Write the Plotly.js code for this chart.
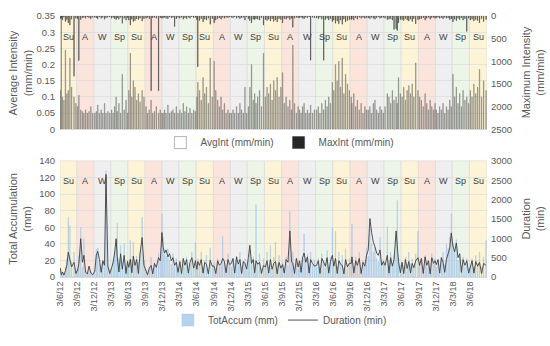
<!DOCTYPE html>
<html>
<head>
<meta charset="utf-8">
<script src="https://cdn.plot.ly/plotly-3.0.1.min.js"></script>
<style>html,body{margin:0;padding:0;background:#fff;}#chart{width:550px;height:346px;}</style>
</head>
<body>
<div id="chart"></div>
<script>
// ---- Event data (one entry per rainfall event) ----
const eventDates = [
 '2012-06-05','2012-06-10','2012-06-16','2012-06-24','2012-07-02','2012-07-10','2012-07-17','2012-07-26','2012-08-04','2012-08-17','2012-08-27',
 '2012-09-05','2012-09-12','2012-09-22','2012-10-01','2012-10-09','2012-10-18','2012-10-27','2012-11-05','2012-11-15','2012-11-25',
 '2012-12-06','2012-12-14','2012-12-22','2012-12-31','2013-01-09','2013-01-18','2013-01-27','2013-02-04','2013-02-14','2013-02-24',
 '2013-03-06','2013-03-14','2013-03-22','2013-03-30','2013-04-05','2013-04-14','2013-04-23','2013-05-02','2013-05-12','2013-05-22','2013-05-30',
 '2013-06-06','2013-06-14','2013-06-22','2013-06-30','2013-07-09','2013-07-18','2013-07-27','2013-08-05','2013-08-16','2013-08-26',
 '2013-09-06','2013-09-14','2013-09-23','2013-10-03','2013-10-12','2013-10-21','2013-10-31','2013-11-12','2013-11-21','2013-11-30',
 '2013-12-06','2013-12-14','2013-12-22','2014-01-01','2014-01-10','2014-01-19','2014-01-28','2014-02-06','2014-02-15','2014-02-24',
 '2014-03-06','2014-03-15','2014-03-24','2014-04-02','2014-04-11','2014-04-20','2014-04-29','2014-05-09','2014-05-19','2014-05-28',
 '2014-06-05','2014-06-10','2014-06-19','2014-06-28','2014-07-08','2014-07-17','2014-07-26','2014-08-05','2014-08-15','2014-08-26',
 '2014-09-05','2014-09-14','2014-09-24','2014-10-03','2014-10-12','2014-10-21','2014-10-30','2014-11-08','2014-11-18','2014-11-27',
 '2014-12-06','2014-12-15','2014-12-24','2015-01-03','2015-01-12','2015-01-21','2015-01-30','2015-02-08','2015-02-17','2015-02-26',
 '2015-03-07','2015-03-15','2015-03-24','2015-04-02','2015-04-10','2015-04-17','2015-04-26','2015-05-06','2015-05-16','2015-05-27',
 '2015-06-06','2015-06-15','2015-06-24','2015-07-03','2015-07-12','2015-07-21','2015-07-30','2015-08-08','2015-08-18','2015-08-28',
 '2015-09-06','2015-09-15','2015-09-25','2015-10-05','2015-10-15','2015-10-24','2015-10-31','2015-11-09','2015-11-19','2015-11-28',
 '2015-12-06','2015-12-14','2015-12-22','2015-12-30','2016-01-08','2016-01-17','2016-01-26','2016-02-03','2016-02-13','2016-02-23',
 '2016-03-06','2016-03-15','2016-03-24','2016-04-03','2016-04-13','2016-04-22','2016-05-01','2016-05-10','2016-05-19','2016-05-29',
 '2016-06-06','2016-06-15','2016-06-24','2016-07-03','2016-07-12','2016-07-21','2016-07-30','2016-08-08','2016-08-18','2016-08-28',
 '2016-09-07','2016-09-11','2016-09-21','2016-10-01','2016-10-10','2016-10-20','2016-10-30','2016-11-09','2016-11-19','2016-11-28',
 '2016-12-07','2016-12-16','2016-12-25','2017-01-03','2017-01-12','2017-01-21','2017-01-30','2017-02-08','2017-02-17','2017-02-26',
 '2017-03-07','2017-03-19','2017-03-28','2017-04-06','2017-04-15','2017-04-24','2017-05-05','2017-05-11','2017-05-18','2017-05-28',
 '2017-06-06','2017-06-15','2017-06-24','2017-07-03','2017-07-12','2017-07-21','2017-07-30','2017-08-08','2017-08-18','2017-08-30',
 '2017-09-08','2017-09-17','2017-09-27','2017-10-07','2017-10-16','2017-10-25','2017-11-03','2017-11-12','2017-11-21','2017-11-29',
 '2017-12-06','2017-12-15','2017-12-24','2018-01-02','2018-01-11','2018-01-20','2018-01-29','2018-02-07','2018-02-16','2018-02-24',
 '2018-03-05','2018-03-14','2018-03-23','2018-04-01','2018-04-10','2018-04-19','2018-04-28','2018-05-08','2018-05-18','2018-05-28',
 '2018-06-06','2018-06-15','2018-06-25','2018-07-05','2018-07-15','2018-07-25','2018-08-05','2018-08-16','2018-08-29'
];
const avgInt = [
 .12,.36,.10,.09,.245,.11,.12,.22,.13,.10,.08,
 .07,.105,.06,.055,.05,.06,.05,.055,.07,.05,
 .05,.055,.075,.05,.06,.05,.08,.05,.055,.05,
 .06,.05,.07,.10,.055,.08,.05,.17,.06,.09,.05,
 .12,.235,.10,.15,.13,.09,.11,.085,.12,.10,
 .07,.05,.06,.09,.05,.055,.07,.05,.06,.05,
 .05,.06,.05,.075,.05,.055,.06,.05,.07,.05,
 .06,.05,.08,.055,.07,.05,.065,.05,.06,.055,
 .10,.145,.12,.09,.16,.11,.13,.08,.22,.10,
 .21,.12,.09,.07,.10,.06,.08,.05,.06,.05,
 .05,.06,.05,.07,.05,.08,.06,.05,.13,.05,
 .07,.13,.20,.09,.11,.08,.10,.12,.07,.235,
 .10,.13,.11,.14,.09,.15,.12,.16,.10,.13,
 .175,.08,.10,.07,.09,.06,.26,.08,.05,.07,
 .06,.05,.07,.08,.05,.06,.05,.075,.05,.06,
 .06,.07,.05,.08,.06,.09,.07,.10,.08,.145,
 .12,.20,.15,.21,.13,.22,.11,.17,.14,.12,
 .10,.08,.11,.07,.09,.06,.08,.05,.07,.06,
 .06,.07,.05,.08,.09,.06,.05,.07,.06,.05,
 .07,.11,.10,.08,.12,.09,.10,.08,.16,.11,
 .10,.13,.09,.12,.135,.11,.14,.10,.205,.12,
 .10,.09,.07,.11,.08,.06,.09,.07,.06,.08,
 .06,.05,.07,.06,.08,.05,.07,.06,.09,.07,
 .17,.10,.13,.08,.11,.07,.12,.09,.10,.08,
 .12,.10,.14,.11,.13,.185,.10,.15,.12
];
const maxInt = [
 60,40,90,30,120,80,150,200,70,1330,50,
 60,980,80,40,30,50,20,40,60,30,
 30,40,60,20,50,30,70,40,30,20,
 50,30,60,80,40,70,30,160,50,90,40,
 90,200,70,120,100,60,80,50,110,60,
 50,30,60,1650,40,30,50,1650,40,50,
 40,30,50,60,20,40,30,233,60,30,
 50,30,70,40,60,30,50,20,40,30,
 80,1120,100,60,130,70,90,50,180,60,
 150,90,60,40,70,30,50,30,40,20,
 30,40,20,50,30,60,40,30,90,20,
 60,100,150,70,80,60,70,90,40,200,
 80,100,70,110,60,120,90,130,60,80,
 150,60,70,40,80,50,250,50,30,40,
 40,30,50,60,30,40,20,975,30,40,
 40,60,30,70,975,80,50,90,60,120,
 90,160,110,170,90,180,70,130,100,80,
 80,60,90,40,70,30,50,30,50,40,
 40,60,30,50,70,40,20,50,40,30,
 50,80,70,60,90,300,280,320,150,80,
 80,100,60,90,110,70,120,60,170,80,
 70,60,40,90,50,30,70,40,30,50,
 40,30,50,40,60,30,50,40,80,60,
 130,70,100,50,80,40,90,60,340,50,
 90,70,110,80,100,150,60,120,80
];
const totAccum = [
 9,4,6,5,12,22,72,62,18,30,8,
 10,25,60,12,46,8,5,10,6,4,
 8,33,35,15,10,20,12,128,14,9,
 10,18,30,45,65,22,38,14,40,12,20,
 12,44,20,42,15,25,18,30,72,20,
 8,5,12,24,10,18,14,28,20,76,
 48,30,25,34,20,15,28,12,22,10,
 14,8,20,12,24,9,16,30,11,42,
 10,22,15,30,12,20,26,8,35,14,
 18,10,22,12,16,49,20,10,28,14,
 12,20,9,25,14,30,10,18,22,8,
 20,32,15,24,12,87,18,28,10,22,
 14,30,12,38,10,24,42,16,26,12,
 18,10,24,14,79,20,30,12,22,9,
 16,10,24,52,18,28,12,30,14,20,
 12,22,9,28,18,14,32,12,24,59,
 14,55,12,30,18,26,10,34,16,22,
 20,64,12,24,16,30,10,20,14,35,
 25,58,40,30,36,22,18,48,12,20,
 14,61,20,30,16,26,50,92,22,14,
 18,12,24,10,30,16,22,12,28,55,
 14,22,10,26,12,20,9,28,15,22,
 12,20,10,24,30,15,40,35,48,76,
 40,30,45,20,28,14,24,12,22,10,
 14,22,12,26,16,30,12,24,44
];
const duration = [
 230,60,130,50,160,310,640,480,260,380,90,
 180,350,990,380,560,120,80,280,100,60,
 150,560,660,450,120,420,300,2650,280,90,
 240,380,620,990,520,130,600,200,560,90,400,
 250,460,110,540,300,450,90,600,1020,300,
 150,60,220,300,80,350,250,500,420,1150,
 780,620,700,520,600,420,500,300,380,120,
 400,90,480,300,450,100,380,500,230,420,
 200,400,300,450,100,380,330,80,430,280,
 280,90,420,300,350,480,400,110,450,320,
 350,480,100,520,330,450,90,400,350,200,
 500,820,350,450,110,420,330,380,90,300,
 260,420,100,450,200,350,400,80,380,230,
 320,100,450,380,1190,400,350,90,480,260,
 420,120,500,620,380,520,100,450,350,280,
 300,420,90,480,380,280,500,100,400,560,
 280,480,90,420,330,300,80,450,260,350,
 350,520,100,420,300,480,90,380,280,560,
 700,1510,1150,900,780,620,560,700,300,400,
 300,560,100,500,280,450,1190,760,400,110,
 380,90,450,220,400,100,350,240,420,500,
 300,480,90,520,300,420,80,500,350,420,
 320,450,100,500,380,120,450,600,750,1140,
 800,650,880,500,600,120,450,300,420,100,
 300,420,100,400,280,380,90,350,300
];

// ---- Seasons ----
const seasonNames = ['Su','A','W','Sp','Su','A','W','Sp','Su','A','W','Sp','Su','A','W','Sp','Su','A','W','Sp','Su','A','W','Sp','Su'];
const seasonStarts = ['2012-06-03','2012-09-01','2012-12-01','2013-03-01','2013-06-01','2013-09-01','2013-12-01','2014-03-01',
 '2014-06-01','2014-09-01','2014-12-01','2015-03-01','2015-06-01','2015-09-01','2015-12-01','2016-03-01',
 '2016-06-01','2016-09-01','2016-12-01','2017-03-01','2017-06-01','2017-09-01','2017-12-01','2018-03-01','2018-06-01'];
const axisStart = '2012-06-03';
const axisEnd = '2018-09-03';
const seasonColors = {Su:'#fdf3d6', A:'#fbe4dc', W:'#efefef', Sp:'#edf4e8'};

// ---- X tick labels ----
const tickDates = ['2012-06-03','2012-09-03','2012-12-03','2013-03-03','2013-06-03','2013-09-03','2013-12-03','2014-03-03',
 '2014-06-03','2014-09-03','2014-12-03','2015-03-03','2015-06-03','2015-09-03','2015-12-03','2016-03-03',
 '2016-06-03','2016-09-03','2016-12-03','2017-03-03','2017-06-03','2017-09-03','2017-12-03','2018-03-03','2018-06-03'];
const tickLabels = ['3/6/12','3/9/12','3/12/12','3/3/13','3/6/13','3/9/13','3/12/13','3/3/14',
 '3/6/14','3/9/14','3/12/14','3/3/15','3/6/15','3/9/15','3/12/15','3/3/16',
 '3/6/16','3/9/16','3/12/16','3/3/17','3/6/17','3/9/17','3/12/17','3/3/18','3/6/18'];

// ---- Axis titles ----
const axisTitles = [
  {text:'Average Intensity<br>(mm/min)', side:'left', yref:'y domain'},
  {text:'Maximum Intensity<br>(mm/min)', side:'right', yref:'y domain'},
  {text:'Total Accumulation<br>(mm)', side:'left', yref:'y3 domain'},
  {text:'Duration<br>(min)', side:'right', yref:'y3 domain'}
];

const FONT = 'Liberation Sans, Arial, sans-serif';
const TXT = '#595959';
const DAY = 86400000;

const shapes = [];
const annotations = [];
seasonNames.forEach((s, i) => {
  const x0 = seasonStarts[i];
  const x1 = i + 1 < seasonStarts.length ? seasonStarts[i + 1] : axisEnd;
  const mid = new Date((Date.parse(x0) + Date.parse(x1)) / 2).toISOString().slice(0, 10);
  [['x2','y domain',0.88],['x','y3 domain',0.89]].forEach(([xr, yr, ly]) => {
    shapes.push({type:'rect', layer:'below', xref:xr, yref:yr, x0:x0, x1:x1, y0:0, y1:1,
      fillcolor:seasonColors[s], line:{color:'#d6d6d6', width:0.6}});
    annotations.push({xref:xr, yref:yr, x:mid, y:ly, text:s, showarrow:false,
      font:{family:FONT, size:9, color:'#404040'}});
  });
});
axisTitles.forEach(t => {
  annotations.push({xref:'paper', yref:t.yref, x:t.side === 'left' ? -0.094 : 1.107, y:0.5,
    xanchor:'center', yanchor:'middle', text:t.text, textangle:-90, showarrow:false,
    font:{family:FONT, size:11, color:TXT}});
});

const traces = [
  {type:'bar', name:'AvgInt (mm/min)', x:eventDates, y:avgInt, xaxis:'x2', yaxis:'y',
   width:2*DAY, marker:{color:'rgba(255,255,255,0)', line:{color:'rgba(100,100,95,0.6)', width:0.8}},
   legend:'legend'},
  {type:'bar', name:'MaxInt (mm/min)', x:eventDates, y:maxInt, xaxis:'x2', yaxis:'y2',
   width:1.5*DAY, marker:{color:'#262626', line:{color:'#3a3a3a', width:0.5}}, legend:'legend'},
  {type:'bar', name:'TotAccum (mm)', x:eventDates, y:totAccum, xaxis:'x', yaxis:'y3',
   width:2.5*DAY, marker:{color:'rgba(157,195,230,0.75)', line:{color:'rgba(157,195,230,0.75)', width:0.5}}, legend:'legend2'},
  {type:'scatter', mode:'lines', name:'Duration (min)', x:eventDates, y:duration, xaxis:'x', yaxis:'y4',
   line:{color:'#404040', width:0.9}, legend:'legend2'}
];

const tickFont = {family:FONT, size:9.5, color:TXT};
const layout = {
  width:550, height:346,
  margin:{l:60, r:63, t:16, b:58},
  paper_bgcolor:'#fff', plot_bgcolor:'#fff',
  barmode:'overlay', bargap:0,
  font:{family:FONT, color:TXT},
  showlegend:true,
  xaxis:{domain:[0,1], anchor:'y3', type:'date', range:[axisStart, axisEnd],
    tickvals:tickDates, ticktext:tickLabels, tickangle:-90, tickfont:{family:FONT, size:9, color:TXT},
    showgrid:false, zeroline:false, showline:true, linecolor:'#d9d9d9', ticks:''},
  xaxis2:{domain:[0,1], anchor:'y', type:'date', range:[axisStart, axisEnd], showticklabels:false,
    tickvals:tickDates, showgrid:false, zeroline:false, showline:true, linecolor:'#d9d9d9', ticks:''},
  yaxis:{domain:[0.566,1], anchor:'x2', range:[0,0.35], dtick:0.05, tickfont:tickFont,
    gridcolor:'#dcdcdc', gridwidth:0.7, zeroline:false, ticks:'', ticklabelstandoff:4},
  yaxis2:{overlaying:'y', anchor:'x2', side:'right', range:[2500,0], dtick:500, tickfont:tickFont,
    showgrid:false, zeroline:false, ticks:'', ticklabelstandoff:3},
  yaxis3:{domain:[0,0.445], anchor:'x', range:[0,140], dtick:20, tickfont:tickFont,
    gridcolor:'#dcdcdc', gridwidth:0.7, zeroline:false, ticks:'', ticklabelstandoff:4},
  yaxis4:{overlaying:'y3', anchor:'x', side:'right', range:[0,3000], dtick:500, tickfont:tickFont,
    showgrid:false, zeroline:false, ticks:'', ticklabelstandoff:3},
  legend:{orientation:'h', x:0.515, xanchor:'center', y:0.515, yanchor:'middle',
    font:{family:FONT, size:10, color:TXT}, bgcolor:'rgba(0,0,0,0)', itemwidth:30},
  legend2:{orientation:'h', x:0.515, xanchor:'center', y:-0.165, yanchor:'middle',
    font:{family:FONT, size:10, color:TXT}, bgcolor:'rgba(0,0,0,0)', itemwidth:30},
  shapes:shapes,
  annotations:annotations
};

Plotly.newPlot('chart', traces, layout, {displayModeBar:false, staticPlot:true});
</script>
</body>
</html>
